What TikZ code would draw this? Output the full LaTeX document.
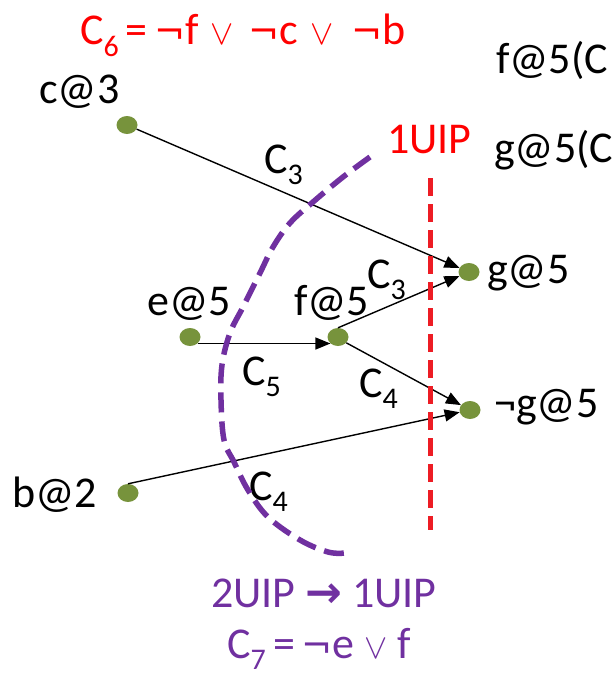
\documentclass[tikz,border=0pt]{standalone}
\usepackage{fontspec}
\setmainfont{Carlito}
\newfontfamily\dejavu{DejaVu Sans}
\usetikzlibrary{arrows.meta,shapes.geometric}
\definecolor{dotgreen}{RGB}{119,147,60}
\definecolor{uipred}{RGB}{237,28,36}
\definecolor{uippurple}{RGB}{112,48,160}
\newcommand\Cs[1]{C\raisebox{-0.27em}{\fontsize{30}{30}\selectfont #1}}
\newcommand\myor{{\fontsize{24.88}{30}\selectfont\scalebox{1.4}{$\vee$}}}
\newcommand\mynot{{\dejavu\fontsize{37}{37}\selectfont ¬}}
\begin{document}
\begin{tikzpicture}[x=1pt,y=-1pt,
  lit/.style={ellipse,fill=dotgreen,minimum width=21pt,minimum height=18pt,inner sep=0pt},
  txt/.style={inner sep=0pt,anchor=base west,font=\fontsize{44}{52}\selectfont},
  arr/.style={line width=1.4pt,-{Triangle[length=15pt,width=12pt]}},
  cut1/.style={uipred,line width=5pt,dash pattern=on 18pt off 8pt},
  cut2/.style={uippurple,line width=5.5pt,dash pattern=on 20pt off 9pt,line cap=butt}]
\clip (0,0) rectangle (615,677);
% literals
\node[lit] (c3) at (127,125) {};
\node[lit] (e5) at (190,337) {};
\node[lit] (f5) at (338,337) {};
\node[lit] (g5) at (469,272) {};
\node[lit] (ng5) at (470,410) {};
\node[lit] (b2) at (128,493) {};
% labels
\node[txt] (lc3) at (39,103) {c@3};
\node[txt] (le5) at (147,315) {e@5};
\node[txt] (lf5) at (294,315) {f@5};
\node[txt] (lg5) at (487,283) {g@5};
\node[txt] (lng5) at (494,417) {¬g@5};
\node[txt] (lb2) at (12,507) {b@2};
% clause labels
\node[txt] (k1) at (264,173) {\Cs{3}};
\node[txt] (k2) at (367,288) {\Cs{3}};
\node[txt] (k3) at (242,385) {\Cs{5}};
\node[txt] (k4) at (359,397) {\Cs{4}};
\node[txt] (k5) at (249,500) {\Cs{4}};
% implication edges
\draw[arr] (c3) -- (g5);
\draw[arr] (e5.south east) -- (f5.south west);
\draw[arr] (f5.north) -- (g5);
\draw[arr] (f5.-35) -- (ng5);
\draw[arr] (b2.north) -- (ng5);
% cuts
\coordinate (r1) at (430,178);
\coordinate (r2) at (430,530);
\draw[cut1] (r1) -- (r2);
\draw[cut2] plot[smooth,tension=0.6] coordinates {(370,157) (343,177) (313,202) (290,223) (273,247) (260,273) (243,307) (230,333) (222,365) (221,400) (224,440) (234,462) (248,490) (268,517) (300,540) (328,552) (345,553)};
% annotations
\node[txt,text=red] (c6) at (80,45) {\Cs{6}\hspace{7pt}=\hspace{7pt}\mynot f\hspace{11pt}\myor\hspace{15pt}\mynot c\hspace{12pt}\myor\hspace{18pt}\mynot b};
\node[txt] (tf) at (496,74) {f@5(C};
\node[txt] (tg) at (494,162) {g@5(C};
\node[txt,text=red] (u1) at (387,153) {1UIP};
\node[txt,text=uippurple] (u2) at (211,607) {2UIP {\dejavu\bfseries →} 1UIP};
\node[txt,text=uippurple] (c7) at (227,658) {\Cs{7}\hspace{8pt}=\hspace{6pt}\mynot e\hspace{10pt}\myor\hspace{10pt}f};
\end{tikzpicture}
\end{document}
